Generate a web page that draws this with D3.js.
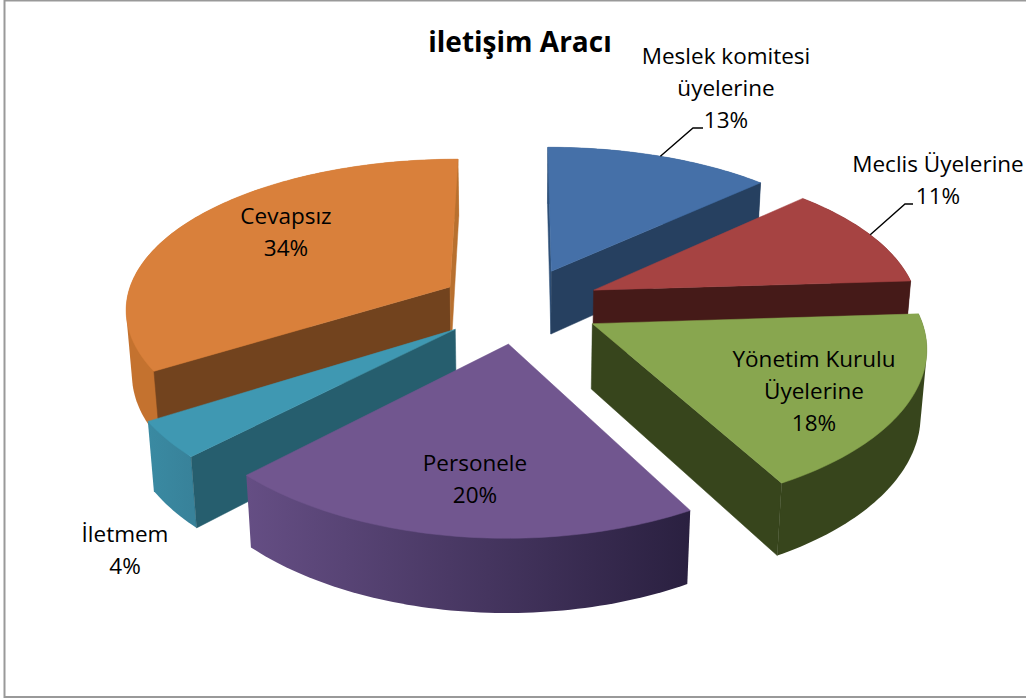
<!DOCTYPE html>
<html><head><meta charset="utf-8">
<script src="https://cdn.jsdelivr.net/npm/d3@7"></script>
<style>html,body{margin:0;background:#fff}svg{display:block}text{font-family:"Open Sans",Lato,sans-serif;fill:#000}</style>
</head><body><svg id="c" width="1026" height="700"></svg>
<script>
const categories=["Meslek komitesi üyelerine","Meclis Üyelerine","Yönetim Kurulu Üyelerine","Personele","İletmem","Cevapsız"];
const values=[13,11,18,20.4,3.7,33.9];
const topColors=["#4570A8","#A64342","#88A64F","#71568F","#3F98B2","#D9803B"];
const startWallColors=["#2F5078","#451A18","#37451C","#3A2C4E","#265E6E","#72431E"];
const endWallColors=["#264060","#451A18","#37451C","#3A2C4E","#265E6E","#B8702F"];
const outerLeft=["#2F4F78","#5A201E","#37451C","#654E84","#3A8AA2","#C4722F"];
const outerRight=["#2F4F78","#5A201E","#37451C","#2A2040","#38829A","#C4722F"];
const labelLines=[["Meslek komitesi","üyelerine","13%"],["Meclis Üyelerine","11%"],["Yönetim Kurulu","Üyelerine","18%"],["Personele","20%"],["İletmem","4%"],["Cevapsız","34%"]];
const labelAnchors=[[726,64],[938,172],[814,367],[475,471],[125,542],[286,224]];
const drawOrder=[5,0,1,4,2,3];
const leaders=[{i:0,a:0.5,pts:[[693,128],[703,128]]},{i:1,a:0.5,pts:[[905,204],[913,204]]}];
const title="iletişim Aracı";

const explode=0.25,perspX=0.13,perspY=0.15,depth=0.43,conv=0.015;
const sx=d3.scaleLinear().domain([-1,1]).range([520-325,520+325]);
const sy=d3.scaleLinear().domain([-1,1]).range([305-152,305+152]);
function project(u,v,z){return [sx(u/(1-perspX*v+conv*z)),sy((v+depth*z)/(1-perspY*v+conv*z))];}
const arcs=d3.pie().sort(null)(values);
const svg=d3.select("#c");
const defs=svg.append("defs");
const line=d3.line();

function geom(a){
  const mid=(a.startAngle+a.endAngle)/2,ou=explode*Math.sin(mid),ov=-explode*Math.cos(mid);
  const p=(th,r,z)=>project(ou+r*Math.sin(th),ov-r*Math.cos(th),z);
  const n=Math.ceil((a.endAngle-a.startAngle)/0.02);
  const ths=d3.range(n+1).map(k=>a.startAngle+(a.endAngle-a.startAngle)*k/n);
  return {p,ths,mid};
}

drawOrder.forEach(i=>{
  const a=arcs[i],g=geom(a),G=svg.append("g");
  const top=g.ths.map(t=>g.p(t,1,0)),bot=g.ths.map(t=>g.p(t,1,1));
  const ext=d3.extent(top,d=>d[0]);
  const gid="rim"+i;
  const lg=defs.append("linearGradient").attr("id",gid).attr("gradientUnits","userSpaceOnUse")
    .attr("x1",ext[0]).attr("x2",ext[1]).attr("y1",0).attr("y2",0);
  lg.append("stop").attr("offset",0).attr("stop-color",outerLeft[i]);
  lg.append("stop").attr("offset",1).attr("stop-color",outerRight[i]);
  G.append("path").attr("fill",`url(#${gid})`)
    .attr("d",line(d3.polygonHull(top.concat(bot)))+"Z");
  const wall=(th,col,sign)=>{
    const poly=[g.p(th,0,0),g.p(th,1,0),g.p(th,1,1),g.p(th,0,1)];
    if(d3.polygonArea(poly)*sign>0) G.append("path").attr("fill",col).attr("stroke",col).attr("stroke-width",.5).attr("d",line(poly)+"Z");
  };
  wall(a.startAngle,startWallColors[i],1);
  wall(a.endAngle,endWallColors[i],-1);
  G.append("path").attr("fill",topColors[i]).attr("stroke",topColors[i]).attr("stroke-width",.5)
    .attr("d",line([g.p(0,0,0)].concat(top))+"Z");
});

leaders.forEach(l=>{
  const a=arcs[l.i],g=geom(a),th=a.startAngle+(a.endAngle-a.startAngle)*l.a;
  svg.append("path").attr("fill","none").attr("stroke","#000").attr("stroke-width",1.4)
    .attr("d",line([g.p(th,1,0)].concat(l.pts)));
});

svg.append("text").attr("x",520).attr("y",52).attr("text-anchor","middle")
  .attr("font-size",28).attr("font-weight",700).text(title);
labelLines.forEach((ls,i)=>{
  const t=svg.append("text").attr("text-anchor","middle").attr("font-size",22.5);
  ls.forEach((s,k)=>t.append("tspan").attr("x",labelAnchors[i][0]).attr("y",labelAnchors[i][1]+k*32).text(s));
});
svg.append("rect").attr("x",4.5).attr("y",0.5).attr("width",1100).attr("height",696.5)
  .attr("fill","none").attr("stroke","#999").attr("stroke-width",2);
</script></body></html>
